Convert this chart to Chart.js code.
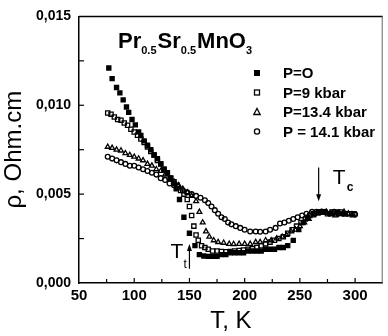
<!DOCTYPE html>
<html>
<head>
<meta charset="utf-8">
<script src="https://cdn.jsdelivr.net/npm/chart.js@4.4.0/dist/chart.umd.min.js"></script>
<style>
  html, body { margin: 0; padding: 0; background: #fff; }
  #wrap { width: 388px; height: 336px; }
</style>
</head>
<body>
<div id="wrap"><canvas id="rhoChart" width="388" height="336"></canvas></div>
<script>
// series names as in the legend
const seriesNames = ["P=O", "P=9 kbar", "P=13.4 kbar", "P = 14.1 kbar"];

// P = 0 (filled squares)
const tP0 = [77, 80, 84, 87, 90, 93, 95, 98, 101, 104, 106, 109, 112, 115, 118, 121, 124, 127, 130, 133,
  136, 138, 141, 145, 150, 155, 159, 163, 167, 171, 175, 179, 183, 187, 191, 195, 199, 203, 207, 211,
  215, 219, 223, 227, 231, 235, 239, 244, 249, 253, 257, 262, 267, 272, 278, 284, 290];
const rhoP0 = [0.0121, 0.0115, 0.0110, 0.0107, 0.0103, 0.0099, 0.0096, 0.0092, 0.0089, 0.0085, 0.0083, 0.0080, 0.00775, 0.0075, 0.0072, 0.0070, 0.0067, 0.0064, 0.0062, 0.0059,
  0.0056, 0.0053, 0.0047, 0.0037, 0.0028, 0.0021, 0.0016, 0.00152, 0.0015, 0.0015, 0.0015, 0.0016, 0.0016, 0.0017, 0.0017, 0.0017, 0.0017, 0.0018, 0.0018, 0.0018,
  0.0018, 0.0019, 0.0019, 0.0019, 0.0020, 0.0020, 0.0021, 0.0024, 0.0030, 0.0034, 0.0037, 0.0039, 0.0040, 0.0040, 0.0039, 0.0040, 0.0039];

// P = 9 kbar (open squares)
const tP9 = [76, 79, 82, 85, 88, 91, 94, 97, 100, 103, 106, 109, 112, 115, 118, 121, 124, 127, 130, 133,
  136, 139, 142, 145, 148, 150, 152, 154, 156, 158, 161, 164, 167, 171, 175, 179, 183, 187, 191, 195,
  199, 203, 207, 211, 215, 219, 223, 227, 231, 235, 239, 243, 247, 251, 255, 259, 263, 267, 271, 275,
  279, 283, 287, 291, 295, 299];
const rhoP9 = [0.00957, 0.0095, 0.00934, 0.0092, 0.00916, 0.0090, 0.00888, 0.00865, 0.0085, 0.00831, 0.0081, 0.0079, 0.00766, 0.0074, 0.0072, 0.0069, 0.0067, 0.0064, 0.0062, 0.0059,
  0.0057, 0.0055, 0.0052, 0.0050, 0.0047, 0.0043, 0.0038, 0.0032, 0.0027, 0.0024, 0.0021, 0.0020, 0.0019, 0.0018, 0.0018, 0.00177, 0.00176, 0.00177, 0.0018, 0.00183,
  0.00186, 0.0019, 0.00193, 0.0020, 0.0021, 0.0022, 0.0023, 0.0024, 0.0025, 0.0026, 0.0028, 0.0030, 0.0032, 0.0034, 0.0036, 0.0038, 0.0039, 0.0040, 0.0040, 0.0039,
  0.0040, 0.0039, 0.0040, 0.0039, 0.0039, 0.0039];

// P = 13.4 kbar (open triangles)
const tP13 = [76, 80, 84, 88, 92, 96, 100, 104, 108, 112, 116, 120, 124, 128, 132, 136, 140, 144, 148, 152,
  156, 159, 162, 165, 168, 172, 176, 181, 186, 190, 195, 200, 205, 210, 214, 219, 224, 229, 234, 238,
  242, 246, 250, 254, 258, 262, 266, 270, 274, 278, 282, 286, 290, 294, 298];
const rhoP13 = [0.00766, 0.0076, 0.0075, 0.00745, 0.0073, 0.0072, 0.0071, 0.0070, 0.0069, 0.0067, 0.0066, 0.0064, 0.0063, 0.0061, 0.0059, 0.0057, 0.0055, 0.0053, 0.0051, 0.0049,
  0.0046, 0.0040, 0.0034, 0.0029, 0.0026, 0.0024, 0.0023, 0.00226, 0.0022, 0.00219, 0.0022, 0.0022, 0.0022, 0.0023, 0.0023, 0.0024, 0.0024, 0.0025, 0.0026, 0.0027,
  0.0029, 0.0030, 0.0032, 0.0034, 0.0036, 0.0038, 0.0039, 0.0040, 0.0040, 0.0039, 0.0038, 0.0039, 0.0040, 0.0039, 0.0038];

// P = 14.1 kbar (open circles)
const tP14 = [76, 80, 84, 88, 92, 96, 100, 104, 108, 112, 116, 120, 124, 128, 132, 136, 140, 144, 148, 152,
  156, 160, 164, 167, 170, 173, 176, 179, 182, 185, 188, 192, 196, 200, 205, 210, 214, 219, 223, 228,
  232, 236, 240, 244, 248, 252, 256, 261, 265, 269, 273, 277, 281, 285, 289, 293, 297, 300];
const rhoP14 = [0.0071, 0.0070, 0.0069, 0.0068, 0.0067, 0.0066, 0.0066, 0.0065, 0.0064, 0.0063, 0.0062, 0.0061, 0.0059, 0.0058, 0.0056, 0.0055, 0.0054, 0.0052, 0.0051, 0.0050,
  0.0049, 0.0048, 0.00466, 0.0045, 0.0043, 0.0041, 0.0039, 0.0037, 0.0036, 0.0034, 0.0033, 0.0032, 0.0031, 0.0030, 0.0029, 0.0029, 0.00288, 0.0029, 0.0030, 0.0031,
  0.00335, 0.0034, 0.0035, 0.0036, 0.0037, 0.0038, 0.0039, 0.0040, 0.0040, 0.0040, 0.0040, 0.0039, 0.0040, 0.0039, 0.0039, 0.0039, 0.0039, 0.00386];

// tick labels
const xTickLabels = ["50", "100", "150", "200", "250", "300"];
const yTickLabels = ["0,000", "0,005", "0,010", "0,015"];

const FONT = "'Liberation Sans', Arial, sans-serif";

function toPoints(ts, vals) {
    return ts.map((t, i) => ({ x: t, y: vals[i] }));
}

// small marker drawing for the legend
function drawMarker(ctx, kind, x, y) {
    ctx.save();
    ctx.strokeStyle = "#000";
    ctx.fillStyle = "#000";
    ctx.lineWidth = 1.3;
    ctx.beginPath();
    if (kind === "filled") {
        ctx.fillRect(x - 3, y - 3, 6, 6);
    } else if (kind === "square") {
        ctx.strokeRect(x - 2.5, y - 2.5, 5, 5);
    } else if (kind === "triangle") {
        ctx.moveTo(x, y - 3.5);
        ctx.lineTo(x + 3.2, y + 2.5);
        ctx.lineTo(x - 3.2, y + 2.5);
        ctx.closePath();
        ctx.stroke();
    } else {
        ctx.arc(x, y, 2.6, 0, Math.PI * 2);
        ctx.stroke();
    }
    ctx.restore();
}

// frame, inward ticks, title, legend and T_t / T_c marks
const decorPlugin = {
    id: "decor",
    afterDraw(chart) {
        const ctx = chart.ctx;
        const area = chart.chartArea;
        const xs = chart.scales.x;
        const ys = chart.scales.y;

        ctx.save();
        ctx.strokeStyle = "#000";
        ctx.lineWidth = 1.5;
        ctx.beginPath();
        ctx.moveTo(area.left, area.top);
        ctx.lineTo(area.right, area.top);
        ctx.stroke();
        ctx.strokeStyle = "#666";
        ctx.lineWidth = 1;
        ctx.beginPath();
        ctx.moveTo(area.right - 0.5, area.top);
        ctx.lineTo(area.right - 0.5, area.bottom);
        ctx.stroke();

        // inward ticks
        ctx.strokeStyle = "#000";
        ctx.lineWidth = 1.2;
        for (let t = 75; t <= 300; t += 25) {
            const px = xs.getPixelForValue(t);
            ctx.beginPath();
            ctx.moveTo(px, area.bottom);
            ctx.lineTo(px, area.bottom - (t % 50 === 0 ? 5 : 4));
            ctx.stroke();
        }
        for (let v = 0.0025; v <= 0.0150; v += 0.0025) {
            const py = ys.getPixelForValue(v);
            ctx.beginPath();
            ctx.moveTo(area.left, py);
            ctx.lineTo(area.left + 5, py);
            ctx.stroke();
        }

        // compound formula
        ctx.fillStyle = "#000";
        ctx.textBaseline = "alphabetic";
        ctx.textAlign = "left";
        let x = 118;
        const base = 48;
        const parts = [["Pr", 0], ["0.5", 1], ["Sr", 0], ["0.5", 1], ["MnO", 0], ["3", 1]];
        parts.forEach(([txt, sub]) => {
            ctx.font = sub ? "bold 11px " + FONT : "bold 22px " + FONT;
            ctx.fillText(txt, x, sub ? base + 6 : base);
            x += ctx.measureText(txt).width + (sub ? 1 : 0);
        });

        // legend
        const kinds = ["filled", "square", "triangle", "circle"];
        ctx.font = "bold 15px " + FONT;
        ctx.textBaseline = "middle";
        seriesNames.forEach((name, i) => {
            const y = 73 + i * 19.5;
            drawMarker(ctx, kinds[i], 257, y);
            ctx.fillText(name, 283, y + 1);
        });

        // T_t arrow (points up)
        const xt = xs.getPixelForValue(150);
        ctx.lineWidth = 1.2;
        ctx.beginPath();
        ctx.moveTo(xt, ys.getPixelForValue(0.0008));
        ctx.lineTo(xt, ys.getPixelForValue(0.0021));
        ctx.stroke();
        ctx.beginPath();
        ctx.moveTo(xt, ys.getPixelForValue(0.0022));
        ctx.lineTo(xt - 2.5, ys.getPixelForValue(0.0022) + 7);
        ctx.lineTo(xt + 2.5, ys.getPixelForValue(0.0022) + 7);
        ctx.closePath();
        ctx.fill();
        ctx.textBaseline = "alphabetic";
        ctx.font = "21px " + FONT;
        ctx.fillText("T", xt - 19, 258);
        ctx.font = "12px " + FONT;
        ctx.fillText("t", xt - 6, 268);

        // T_c arrow (points down)
        const xc = xs.getPixelForValue(267);
        ctx.beginPath();
        ctx.moveTo(xc, ys.getPixelForValue(0.0065));
        ctx.lineTo(xc, ys.getPixelForValue(0.0048));
        ctx.stroke();
        ctx.beginPath();
        ctx.moveTo(xc, ys.getPixelForValue(0.0046));
        ctx.lineTo(xc - 2.5, ys.getPixelForValue(0.0046) - 7);
        ctx.lineTo(xc + 2.5, ys.getPixelForValue(0.0046) - 7);
        ctx.closePath();
        ctx.fill();
        ctx.font = "21px " + FONT;
        ctx.fillText("T", xc + 14, 184);
        ctx.font = "bold 12px " + FONT;
        ctx.fillText("c", xc + 28, 191);
        ctx.restore();
    }
};

const openStyle = { backgroundColor: "rgba(255,255,255,0)", borderColor: "#000", borderWidth: 1.3 };

new Chart(document.getElementById("rhoChart"), {
    type: "scatter",
    data: {
        datasets: [
            { label: seriesNames[0], data: toPoints(tP0, rhoP0), pointStyle: "rect", pointRadius: 3.8,
              backgroundColor: "#000", borderColor: "#000", borderWidth: 0 },
            Object.assign({ label: seriesNames[1], data: toPoints(tP9, rhoP9), pointStyle: "rect", pointRadius: 3 }, openStyle),
            Object.assign({ label: seriesNames[2], data: toPoints(tP13, rhoP13), pointStyle: "triangle", pointRadius: 2.8 }, openStyle),
            Object.assign({ label: seriesNames[3], data: toPoints(tP14, rhoP14), pointStyle: "circle", pointRadius: 2.4 }, openStyle)
        ]
    },
    options: {
        responsive: false,
        animation: false,
        devicePixelRatio: 1,
        layout: { padding: { top: 16, right: 1, left: 0, bottom: 0 } },
        plugins: { legend: { display: false }, tooltip: { enabled: false } },
        scales: {
            x: {
                type: "linear",
                min: 50,
                max: 325,
                afterFit(scale) { scale.height = 53; },
                afterBuildTicks(scale) {
                    scale.ticks = xTickLabels.map(v => ({ value: Number(v) }));
                },
                grid: { display: false, drawTicks: false },
                border: { display: true, color: "#000", width: 1.5 },
                ticks: {
                    padding: 4,
                    color: "#000",
                    font: { family: FONT, size: 15, weight: "bold" },
                    callback: (v) => xTickLabels[xTickLabels.indexOf(String(v))] || ""
                },
                title: {
                    display: true,
                    text: "T, K",
                    color: "#000",
                    font: { family: FONT, size: 24 },
                    padding: { top: 0, bottom: 0 }
                }
            },
            y: {
                type: "linear",
                min: 0,
                max: 0.015,
                afterFit(scale) { scale.width = 79; },
                afterBuildTicks(scale) {
                    scale.ticks = yTickLabels.map((s, i) => ({ value: i * 0.005 }));
                },
                grid: { display: false, drawTicks: false },
                border: { display: true, color: "#000", width: 1.5 },
                ticks: {
                    padding: 8,
                    color: "#000",
                    font: { family: FONT, size: 14, weight: "bold" },
                    callback: (v) => yTickLabels[Math.round(v / 0.005)] || ""
                },
                title: {
                    display: true,
                    text: "ρ, Ohm.cm",
                    color: "#000",
                    font: { family: FONT, size: 24 },
                    padding: { top: 0, bottom: 0 }
                }
            }
        }
    },
    plugins: [decorPlugin]
});
</script>
</body>
</html>
